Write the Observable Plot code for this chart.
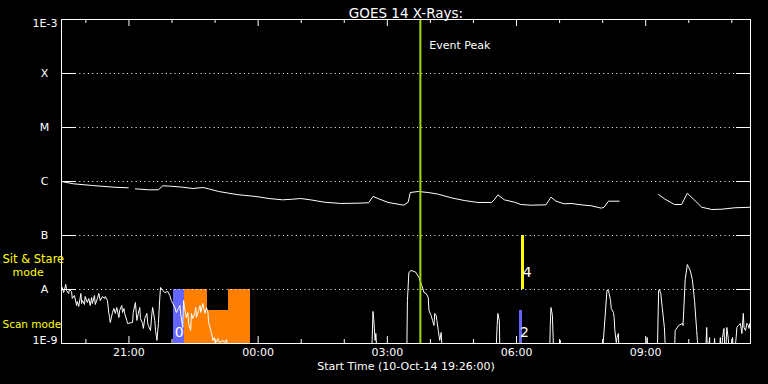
<!DOCTYPE html>
<html><head><meta charset="utf-8">
<script src="https://cdn.jsdelivr.net/npm/d3@7"></script>
<script src="https://cdn.jsdelivr.net/npm/@observablehq/plot@0.6"></script>
<style>
html,body{margin:0;padding:0;background:#000;}
</style></head><body><div id="chart"></div>
<script>
// Start of the plotted interval: 10-Oct-14 19:26:00 UTC; times below are minutes after it
const startTime = Date.UTC(2014, 9, 10, 19, 26);
const endMinutes = 960;

// Long channel (1-8 Å), W/m^2 ; null = data gap
const longMin  = [0,17,43,73,93,96,103,121,135,141,152,169,183,197,205,219,233,247,271,289,308,322,333,347,366,389,413,428,434,441,455,477,483,486,497,511,525,543,561,580,599,603,608,617,631,640,654,675,682,689,700,710,724,738,752,756,762,777,790,832,840,854,864,872,880,892,906,920,938,961];
const longFlux = [1.0e-6,9.06e-7,8.43e-7,7.84e-7,7.64e-7,null,7.32e-7,7.02e-7,7.02e-7,8.32e-7,8.18e-7,7.84e-7,7.42e-7,7.74e-7,7.32e-7,6.53e-7,6.07e-7,5.67e-7,5.28e-7,4.84e-7,4.58e-7,4.70e-7,4.84e-7,4.58e-7,4.14e-7,3.92e-7,3.97e-7,4.04e-7,5.28e-7,4.84e-7,4.09e-7,3.64e-7,4.14e-7,6.25e-7,6.53e-7,6.25e-7,5.82e-7,4.99e-7,4.45e-7,4.09e-7,4.09e-7,4.58e-7,5.67e-7,4.58e-7,4.14e-7,3.75e-7,3.64e-7,3.70e-7,5.12e-7,4.32e-7,3.87e-7,3.92e-7,3.70e-7,3.55e-7,3.21e-7,3.34e-7,4.32e-7,4.32e-7,null,5.74e-7,4.79e-7,3.75e-7,3.75e-7,6.07e-7,4.79e-7,3.34e-7,3.03e-7,3.07e-7,3.26e-7,3.34e-7];

// Short channel (0.5-4 Å), W/m^2 ; values under 1E-9 fall below the plot
const shortMin  = [0,1,3,6,7,10,11,14,15,18,21,22,24,27,28,29,32,33,36,38,40,42,43,46,47,50,52,54,57,60,61,64,66,67,68,71,73,75,77,80,81,84,85,87,88,91,92,99,100,103,105,107,109,110,113,114,116,119,120,121,124,126,127,130,131,133,135,137,138,141,144,148,151,153,155,158,160,163,165,166,169,170,172,174,176,177,180,181,183,186,187,188,191,193,194,197,198,200,202,204,205,208,209,211,213,215,218,220,225,227,230,232,
  432,434,435,437,438,440,
  481,482,484,487,491,494,498,502,505,508,511,512,515,517,519,520,522,523,525,527,529,531,
  605,607,608,610,611,
  680,681,682,684,685,686,
  694,695,696,
  754,755,760,762,763,765,766,769,770,771,773,774,776,777,
  815,816,817,
  830,832,833,835,837,840,841,843,
  854,855,860,865,866,869,872,874,876,879,882,885,886,889,
  897,899,900,903,904,908,910,911,916,918,919,921,923,925,927,929,931,935,937,940,941,943,946,948,950,951,953,955,957,958,959,960];
const shortFlux = [1.0e-8,1.09e-8,8.80e-9,1.24e-8,9.58e-9,8.43e-9,1.0e-8,9.18e-9,6.82e-9,7.74e-9,5.06e-9,6.0e-9,4.85e-9,8.43e-9,5.51e-9,6.25e-9,5.28e-9,7.42e-9,5.74e-9,6.82e-9,5.06e-9,7.11e-9,5.51e-9,7.74e-9,5.28e-9,6.82e-9,8.43e-9,6.25e-9,7.42e-9,6.82e-9,7.42e-9,6.25e-9,3.60e-9,3.03e-9,2.45e-9,3.75e-9,4.45e-9,3.60e-9,4.64e-9,3.03e-9,4.09e-9,5.06e-9,3.75e-9,4.45e-9,3.60e-9,2.67e-9,2.35e-9,2.45e-9,3.75e-9,5.74e-9,2.67e-9,3.60e-9,4.64e-9,2.90e-9,2.35e-9,1.90e-9,2.90e-9,3.60e-9,2.45e-9,2.16e-9,1.74e-9,3.60e-9,4.64e-9,2.67e-9,1.74e-9,1.14e-9,2.35e-9,7.11e-9,1.09e-8,9.58e-9,8.80e-9,9.18e-9,7.74e-9,6.25e-9,5.51e-9,4.64e-9,3.75e-9,4.45e-9,5.06e-9,3.60e-9,1.98e-9,6.25e-9,4.09e-9,3.03e-9,3.75e-9,2.35e-9,1.74e-9,3.60e-9,2.90e-9,3.75e-9,4.64e-9,3.03e-9,4.09e-9,5.06e-9,3.75e-9,5.51e-9,4.45e-9,3.60e-9,4.64e-9,3.75e-9,2.45e-9,1.74e-9,1.53e-9,1.14e-9,1.29e-9,1.04e-9,1.24e-9,1.04e-9,1.14e-9,1.04e-9,1.19e-9,5e-10,
  5e-10,3.92e-9,2.90e-9,1.14e-9,1.53e-9,5e-10,
  5e-10,6.25e-9,2.07e-8,2.25e-8,2.16e-8,2.07e-8,1.67e-8,1.19e-8,8.80e-9,8.43e-9,7.11e-9,4.09e-9,3.30e-9,2.67e-9,2.16e-9,3.60e-9,3.30e-9,2.67e-9,1.74e-9,1.14e-9,1.60e-9,5e-10,
  5e-10,2.16e-9,3.60e-9,2.67e-9,5e-10,
  5e-10,2.16e-9,4.64e-9,3.30e-9,1.29e-9,5e-10,
  5e-10,1.14e-9,5e-10,
  5e-10,1.14e-9,9.58e-9,9.58e-9,8.43e-9,6.25e-9,4.45e-9,3.75e-9,3.03e-9,1.74e-9,1.04e-9,1.29e-9,1.53e-9,5e-10,
  5e-10,1.29e-9,5e-10,
  5e-10,9.58e-9,1.0e-8,8.43e-9,4.64e-9,1.98e-9,1.04e-9,5e-10,
  5e-10,1.74e-9,2.16e-9,2.35e-9,2.16e-9,1.53e-8,2.90e-8,2.55e-8,2.25e-8,1.53e-8,6.25e-9,1.74e-9,1.14e-9,5e-10,
  5e-10,1.98e-9,5e-10,1.29e-9,5e-10,5e-10,1.24e-9,5e-10,5e-10,1.29e-9,5e-10,1.29e-9,1.90e-9,5e-10,1.98e-9,1.24e-9,5e-10,1.29e-9,5e-10,1.29e-9,1.98e-9,2.16e-9,2.35e-9,1.53e-9,3.60e-9,1.98e-9,1.74e-9,2.35e-9,2.16e-9,1.90e-9,2.35e-9,2.16e-9];

// Instrument mode blocks
const modeStart  = [156,172,204,232,638,641];
const modeEnd    = [172,204,232,264,642,645];
const modeTop    = [1e-8,1e-8,4.09e-9,1e-8,4.09e-9,1e-7];
const modeBottom = [1e-9,1e-9,1e-9,1e-9,1e-9,1e-8];
const modeColor  = ["#6464ff","#ff8000","#ff8000","#ff8000","#6464ff","#ffff00"];
const modeLabels = ["0","2","4"];
const modeLabelMin  = [164,645,649];
const modeLabelFlux = [1.6e-9,1.6e-9,2.07e-8];

// Event peak
const peakMin = 500;

// Axis values
const decadeTicks = [1e-9,1e-8,1e-7,1e-6,1e-5,1e-4,1e-3];
const classLevels = [1e-8,1e-7,1e-6,1e-5,1e-4];
const classLabels = ["A","B","C","M","X"];
const hourLabels = ["21:00","00:00","03:00","06:00","09:00"];

const toDate = m => new Date(startTime + m * 60000);
const longData = longMin.map((m, i) => ({t: toDate(m), f: longFlux[i]}));
const shortData = shortMin.map((m, i) => ({t: toDate(m), f: shortFlux[i]}));
const modes = modeStart.map((s, i) => ({x1: toDate(s), x2: toDate(modeEnd[i]), y1: modeBottom[i], y2: modeTop[i], c: modeColor[i]}));
const modeText = modeLabels.map((s, i) => ({t: toDate(modeLabelMin[i]), f: modeLabelFlux[i], s}));
const peak = toDate(peakMin);
const hours = d3.utcHour.range(toDate(0), toDate(endMinutes + 1));
const fmt = d3.utcFormat("%H:%M");
const majorHours = hours.filter(d => hourLabels.includes(fmt(d)));
const minorHours = hours.filter(d => !hourLabels.includes(fmt(d)));

const W = 768, H = 384, mL = 61, mR = 18, mT = 19, mB = 41;
const fw = W - mL - mR, fh = H - mT - mB;

const chart = Plot.plot({
  width: W, height: H,
  marginLeft: mL, marginRight: mR, marginTop: mT, marginBottom: mB,
  style: {background: "black", color: "white", fontFamily: "DejaVu Sans", fontSize: "11px"},
  x: {type: "utc", domain: [toDate(0), toDate(endMinutes)], axis: null},
  y: {type: "log", domain: [1e-9, 1e-3], axis: null},
  marks: [
    Plot.rect(modes, {x1: "x1", x2: "x2", y1: "y1", y2: "y2", fill: "c", shapeRendering: "crispEdges"}),
    Plot.tickY(classLevels, {y: d => d, stroke: "white", strokeDasharray: "1,3.33", insetLeft: 14, insetRight: 14}),
    Plot.tickY(decadeTicks, {y: d => d, stroke: "white", insetRight: fw - 14}),
    Plot.tickY(decadeTicks, {y: d => d, stroke: "white", insetLeft: fw - 14}),
    Plot.tickX(minorHours, {x: d => d, stroke: "white", insetBottom: fh - 4}),
    Plot.tickX(minorHours, {x: d => d, stroke: "white", insetTop: fh - 4}),
    Plot.tickX(majorHours, {x: d => d, stroke: "white", insetBottom: fh - 7}),
    Plot.tickX(majorHours, {x: d => d, stroke: "white", insetTop: fh - 7}),
    Plot.line(longData, {x: "t", y: "f", stroke: "white", strokeWidth: 1, clip: true}),
    Plot.line(shortData, {x: "t", y: "f", stroke: "white", strokeWidth: 1, clip: true}),
    Plot.text(modeText, {x: "t", y: "f", text: "s", fill: "white", fontSize: 14}),
    Plot.ruleX([peak], {x: d => d, stroke: "#a8d800", strokeWidth: 2}),
    Plot.text([peak], {x: d => d, text: () => "Event Peak", frameAnchor: "top", dy: 22, dx: 9, textAnchor: "start", fill: "white"}),
    Plot.frame({stroke: "white"}),
    // y labels
    Plot.text(classLevels, {y: d => d, text: (d, i) => classLabels[i], frameAnchor: "left", dx: -17, textAnchor: "middle", fill: "white"}),
    Plot.text([1e-3], {y: d => d, text: () => "1E-3", frameAnchor: "left", dx: -4, dy: 4, textAnchor: "end", fill: "white"}),
    Plot.text([1e-9], {y: d => d, text: () => "1E-9", frameAnchor: "left", dx: -4, dy: -3, textAnchor: "end", fill: "white"}),
    Plot.text([3.6e-8], {y: d => d, text: () => "Sit & Stare", frameAnchor: "left", dx: -59, textAnchor: "start", fill: "#ffff00", fontSize: 11.5}),
    Plot.text([2.07e-8], {y: d => d, text: () => "mode", frameAnchor: "left", dx: -49, textAnchor: "start", fill: "#ffff00", fontSize: 11}),
    Plot.text([2.25e-9], {y: d => d, text: () => "Scan mode", frameAnchor: "left", dx: -59, textAnchor: "start", fill: "#ffff00", fontSize: 10.5}),
    // x labels
    Plot.text(majorHours, {x: d => d, text: d => fmt(d), frameAnchor: "bottom", dy: 12, fill: "white"}),
    Plot.text(["Start Time (10-Oct-14 19:26:00)"], {text: d => d, frameAnchor: "bottom", dy: 26, fill: "white"}),
    Plot.text(["GOES 14 X-Rays:"], {text: d => d, frameAnchor: "top", dy: -11, fontSize: 13.5, fill: "white"})
  ]
});
document.getElementById("chart").appendChild(chart);
</script>
</body></html>
